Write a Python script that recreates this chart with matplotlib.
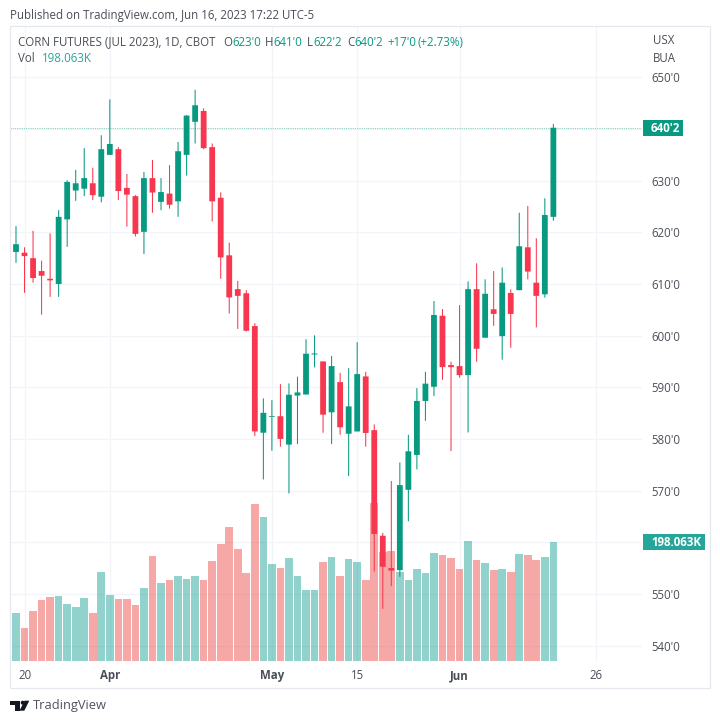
import matplotlib
matplotlib.use("Agg")
import matplotlib.pyplot as plt
from matplotlib.patches import Rectangle, Polygon, Circle

plt.rcParams['font.family'] = ['Open Sans', 'DejaVu Sans']

W, H = 720, 723
GREEN = "#089981"
RED = "#F7374F"
VOL_GREEN = "#26a69a"
VOL_RED = "#ef5350"
GRID = "#f2f4f9"
TEXT = "#4a4e58"

opens = [616.2, 616.05, 615.0, 612.5, 611.0, 610.0, 622.5, 628.1, 628.45, 629.5,
         626.9, 635.0, 636.1, 628.6, 627.0, 620.1, 630.5, 625.9, 627.5, 626.0,
         635.0, 641.4, 643.5, 636.5, 626.7, 615.55, 609.0, 608.2, 601.85, 581.2,
         584.25, 584.4, 578.9, 588.4, 588.6, 596.35, 595.0, 585.15, 591.0, 581.0,
         581.45, 592.1, 581.7, 561.25, 555.0, 554.6, 570.15, 576.9, 587.35, 590.1,
         603.85, 594.3, 594.1, 592.35, 609.0, 599.6, 605.1, 599.9, 608.25, 608.8,
         617.1, 610.25, 608.0, 623.0]
highs = [621.2, 617.1, 620.3, 614.5, 619.8, 624.3, 630.1, 632.1, 636.3, 632.5,
         638.8, 645.75, 636.5, 631.3, 627.2, 631.7, 634.0, 630.5, 633.0, 637.5,
         642.7, 647.6, 644.0, 637.2, 627.75, 618.0, 610.6, 608.8, 602.4, 587.85,
         587.5, 590.6, 590.75, 592.05, 599.3, 600.05, 595.0, 596.05, 592.8, 593.7,
         598.75, 593.0, 582.8, 561.8, 571.85, 575.45, 580.8, 589.85, 593.0, 606.7,
         605.15, 594.95, 605.9, 610.5, 614.0, 610.9, 612.5, 613.2, 608.95, 623.8,
         625.1, 618.85, 626.6, 641.0]
lows = [614.1, 608.3, 610.25, 604.05, 607.5, 607.5, 617.2, 626.1, 627.0, 626.25,
        625.8, 635.0, 626.25, 621.1, 619.2, 615.8, 623.8, 624.3, 624.6, 623.0,
        631.0, 637.2, 636.1, 622.1, 611.0, 604.3, 601.3, 600.8, 580.55, 572.15,
        577.7, 578.5, 569.45, 579.0, 588.6, 593.85, 581.2, 579.0, 580.8, 572.8,
        581.45, 578.5, 554.3, 547.1, 551.5, 553.3, 564.05, 574.1, 583.5, 588.3,
        591.45, 577.65, 591.85, 581.25, 594.95, 599.6, 601.9, 595.35, 597.65, 608.8,
        610.9, 601.6, 607.35, 622.25]
closes = [617.7, 615.4, 611.15, 611.6, 610.7, 623.0, 629.75, 629.5, 630.5, 627.2,
          636.1, 637.1, 628.0, 627.3, 619.7, 630.5, 627.7, 627.8, 625.35, 635.7,
          642.6, 644.6, 636.3, 626.0, 615.15, 607.4, 607.7, 600.95, 581.45, 585.05,
          584.4, 580.0, 588.55, 589.0, 596.5, 596.55, 584.7, 594.1, 582.25, 586.3,
          592.55, 581.15, 561.6, 555.25, 554.5, 571.05, 577.6, 587.35, 590.7, 604.0,
          593.9, 593.9, 592.35, 609.0, 597.45, 608.1, 604.2, 610.25, 604.2, 617.3,
          612.4, 607.7, 623.35, 640.25]
# thousands of contracts
volumes = [80.2, 54.2, 83.0, 101.3, 106.3, 107.9, 94.6, 89.7, 105.1, 79.1,
           148.3, 109.0, 102.9, 102.9, 93.0, 121.2, 174.3, 130.0, 133.9, 141.7,
           135.6, 141.7, 133.9, 165.5, 194.2, 223.0, 185.9, 145.5, 260.7, 238.5,
           160.5, 153.8, 170.4, 140.6, 117.9, 117.9, 164.4, 172.1, 140.6, 169.3,
           164.4, 134.5, 262.9, 181.5, 182.6, 148.3, 134.5, 153.3, 145.5, 178.7,
           175.4, 170.4, 153.3, 199.2, 167.7, 162.7, 151.1, 152.2, 147.2, 177.6,
           175.4, 167.7, 172.7, 198.063]
prev_volume = 102.9  # bar cut off by the left edge

price_ticks = [540, 550, 560, 570, 580, 590, 600, 610, 620, 630, 640, 650]
hidden_ticks = [560, 640]  # covered by the value boxes in the original
date_ticks = [1, 11, 30, 40, 52, 68]
date_labels = ["20", "Apr", "May", "15", "Jun", "26"]
bold_dates = ["Apr", "May", "Jun"]
last_price = 640.25

fig = plt.figure(figsize=(W / 100, H / 100), dpi=100)
rect = [10 / W, 1 - 661 / H, 632 / W, 635 / H]

ax = fig.add_axes(rect)
ax_vol = ax.twinx()
ax_c = ax.twinx()
ax.set_zorder(0)
ax_vol.set_zorder(1)
ax_c.set_zorder(2)
ax_vol.patch.set_visible(False)
ax_c.patch.set_visible(False)

xlim = (-0.703, 73.39)
ylim = (537.0, 659.95)
ax.set_xlim(xlim)
ax.set_ylim(ylim)
ax_c.set_ylim(ylim)
ax_vol.set_ylim(0, 1054.2)

xs = list(range(len(closes)))
up = [c >= o for o, c in zip(opens, closes)]

# volume
vol_colors = [VOL_GREEN if u else VOL_RED for u in up]
ax_vol.bar([-1] + xs, [prev_volume] + volumes, width=0.9,
           color=[VOL_GREEN] + vol_colors, alpha=0.5, linewidth=0)

# candles
colors = [GREEN if u else RED for u in up]
wicks = ax_c.vlines(xs, lows, highs, colors=colors, linewidth=0.75)
wicks.set_snap(False)
bottoms = [min(o, c) for o, c in zip(opens, closes)]
heights = [abs(o - c) for o, c in zip(opens, closes)]
bars = ax_c.bar(xs, heights, bottom=bottoms, width=0.68, color=colors, linewidth=0)
for b in bars:
    b.set_snap(False)
ax_c.axhline(last_price, color=GREEN, linestyle=(0, (1, 1)), linewidth=0.8, alpha=0.45, zorder=0)

# axes, grid and tick labels
for a in (ax, ax_vol, ax_c):
    for s in a.spines.values():
        s.set_visible(False)
ax_vol.set_yticks([])
ax_c.set_yticks([])

ax.set_xticks(date_ticks)
ax.set_xticklabels(date_labels, fontsize=8.3, color=TEXT)
for lab in ax.get_xticklabels():
    if lab.get_text() in bold_dates:
        lab.set_fontweight("bold")
ax.set_yticks(price_ticks)
ax.set_yticklabels(["" if p in hidden_ticks else "%d'0" % p for p in price_ticks],
                   fontsize=8.3, color=TEXT)
ax.yaxis.tick_right()
ax.tick_params(axis="x", length=0, pad=6)
ax.tick_params(axis="y", length=0, pad=6.5)
ax.grid(True, color=GRID, linewidth=0.9)
ax.set_axisbelow(True)

# everything else in pixel coordinates
ov = fig.add_axes([0, 0, 1, 1], zorder=5)
ov.set_xlim(0, W)
ov.set_ylim(H, 0)
ov.axis("off")
ov.patch.set_visible(False)

ov.add_patch(Rectangle((10, 26), 700, 662, fill=False, edgecolor="#e6e8f0", linewidth=0.9))


def label(x, y, s, color=TEXT, size=8.3, **kw):
    ov.text(x, y, s, color=color, fontsize=size, va="center", **kw)


label(10, 15, "Published on TradingView.com, Jun 16, 2023 17:22 UTC-5")
label(18, 42, "CORN FUTURES (JUL 2023), 1D, CBOT")
label(18, 59, "Vol")
label(42, 59, "198.063K", color=VOL_GREEN)
for x, s in [(223, "O"), (265, "H"), (307, "L"), (347, "C")]:
    label(x, 42, s)
for x, s in [(232, "623'0"), (273, "641'0"), (313, "622'2"), (354, "640'2"),
             (387, "+17'0"), (417, "(+2.73%)")]:
    label(x, 42, s, color=GREEN)
label(653, 40, "USX")
label(653, 58.5, "BUA")

ov.add_patch(Rectangle((643, 120), 40, 16, color=GREEN, linewidth=0))
label(651, 128, "640'2", color="white", fontweight="bold")
ov.add_patch(Rectangle((643, 534), 62, 16, color="#26a69a", linewidth=0))
label(651, 542, "198.063K", color="white", fontweight="bold")

# logo
ov.add_patch(Polygon([(10, 700.7), (20, 700.7), (20, 710.7), (14.7, 710.7), (14.7, 704.7), (10, 704.7)],
                     color="#131722", linewidth=0))
ov.add_patch(Circle((22.7, 702.7), 2, color="#131722", linewidth=0))
ov.add_patch(Polygon([(24.5, 700.7), (29.3, 700.7), (24.3, 710.7), (19.5, 710.7)], color="#131722", linewidth=0))
label(33, 706, "TradingView", color="#50535e", size=9.3)

fig.savefig("out.png", dpi=100)
